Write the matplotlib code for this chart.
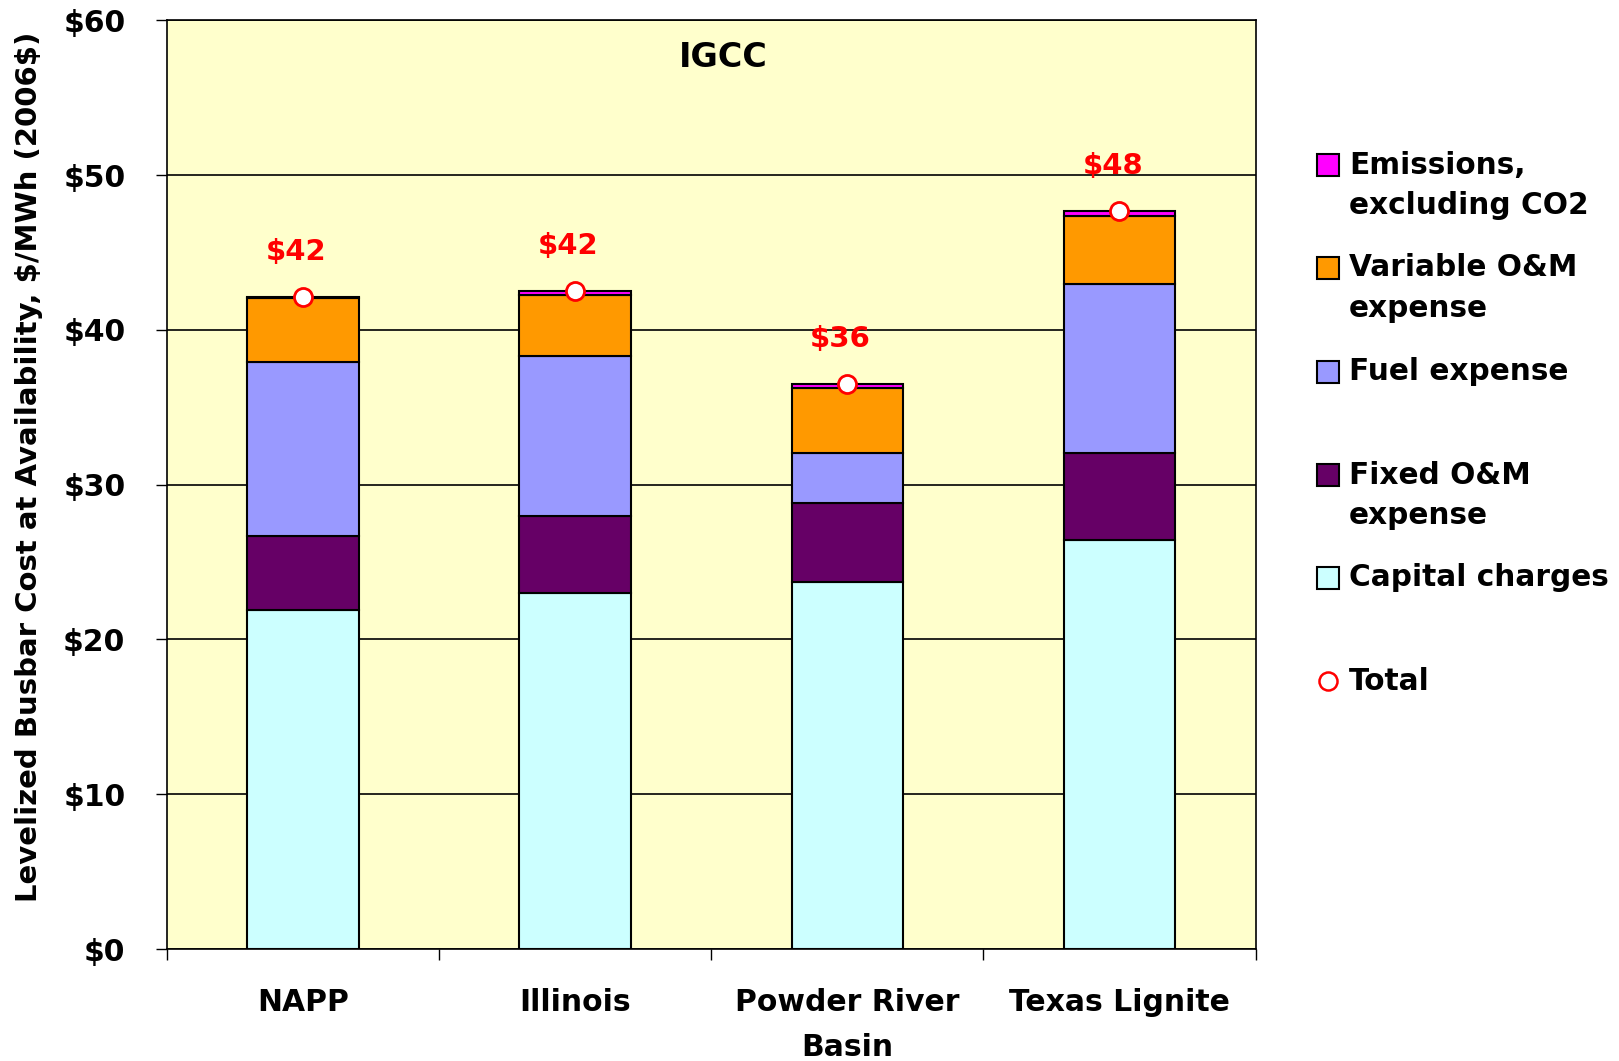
import matplotlib
matplotlib.use("Agg")
import matplotlib.pyplot as plt
from matplotlib.patches import Rectangle
from matplotlib.lines import Line2D
import numpy as np

plt.rcParams['font.family'] = ['DejaVu Sans']
plt.rcParams['font.weight'] = 'bold'

regions = ["NAPP", "Illinois", "Powder River\nBasin", "Texas Lignite"]
capital = [21.93, 23.0, 23.73, 26.4]
fixed_om = [4.74, 5.0, 5.07, 5.67]
fuel = [11.27, 10.31, 3.27, 10.87]
variable_om = [4.1, 3.94, 4.16, 4.44]
emissions = [0.1, 0.25, 0.27, 0.3]
total_labels = ["$42", "$42", "$36", "$48"]
y_ticks = [0, 10, 20, 30, 40, 50, 60]
y_tick_labels = ["$0", "$10", "$20", "$30", "$40", "$50", "$60"]

series = [
    (capital, "#CCFFFF", "Capital charges"),
    (fixed_om, "#660066", "Fixed O&M\nexpense"),
    (fuel, "#9999FF", "Fuel expense"),
    (variable_om, "#FF9900", "Variable O&M\nexpense"),
    (emissions, "#FF00FF", "Emissions,\nexcluding CO2"),
]

W, H = 1619, 1061
fig = plt.figure(figsize=(W / 100, H / 100), dpi=100)
ax = fig.add_axes([167 / W, 1 - 949 / H, (1255.5 - 167) / W, (949 - 20.3) / H])
ax.set_facecolor("#FFFFCC")

x = np.arange(len(regions))
bottom = np.zeros(len(regions))
for vals, col, lab in series:
    ax.bar(x, vals, width=0.41, bottom=bottom, color=col, edgecolor="black",
           linewidth=1.5, zorder=3)
    bottom = bottom + np.array(vals)

totals = bottom
ax.plot(x, totals, 'o', ms=13, mfc="white", mec="red", mew=2, zorder=5)
for xi, t, lab in zip(x, totals, total_labels):
    ax.text(xi - 0.025, t + 2.9, lab, color="red", fontsize=21, ha="center",
            va="center", fontweight="bold")

ax.text(1.543, 57.6, "IGCC", fontsize=24, ha="center", va="center", fontweight="bold")

ax.set_xlim(-0.5, 3.5)
ax.set_ylim(0, 60)
ax.set_yticks(y_ticks)
ax.set_yticklabels(y_tick_labels, fontsize=21.5, fontweight="bold")
ax.yaxis.grid(True, color="black", linewidth=1.2, zorder=1)
ax.set_axisbelow(True)
ax.tick_params(axis="y", direction="out", length=8, width=1, pad=22)

ax.set_xticks(np.arange(-0.5, 4.0, 1.0))
ax.set_xticklabels([])
ax.tick_params(axis="x", which="major", direction="out", length=8, width=1)
ax.set_xticks(x, minor=True)
ax.set_xticklabels(regions, minor=True, fontsize=21.5, fontweight="bold")
ax.tick_params(axis="x", which="minor", length=0, pad=28)
for lbl in ax.get_xticklabels(minor=True):
    lbl.set_linespacing(1.72)

for sp in ax.spines.values():
    sp.set_color("black")
    sp.set_linewidth(1.2)

fig.text(29 / W, 1 - 467 / H, r"Levelized Busbar Cost at Availability, \$/MWh (2006\$)",
         rotation=90, ha="center", va="center", fontsize=21, fontweight="bold")

# legend, drawn by hand to keep the squares on the first text line
sq = 22
legend_rows = [
    ("#FF00FF", ["Emissions,", "excluding CO2"], 165),
    ("#FF9900", ["Variable O&M", "expense"], 268),
    ("#9999FF", ["Fuel expense"], 372),
    ("#660066", ["Fixed O&M", "expense"], 475),
    ("#CCFFFF", ["Capital charges"], 578),
]
for col, lines, yc in legend_rows:
    fig.patches.append(Rectangle((1317 / W, 1 - (yc + sq / 2) / H), sq / W, sq / H,
                                 transform=fig.transFigure, facecolor=col,
                                 edgecolor="black", linewidth=1.5))
    for k, line in enumerate(lines):
        fig.text(1349 / W, 1 - (yc + 41 * k) / H, line, fontsize=21.3,
                 fontweight="bold", ha="left", va="center")
fig.lines.append(Line2D([1328 / W], [1 - 681 / H], transform=fig.transFigure,
                        marker="o", ms=13, mfc="white", mec="red", mew=1.8))
fig.text(1349 / W, 1 - 681 / H, "Total", fontsize=21.3, fontweight="bold",
         ha="left", va="center")

fig.savefig("out.png", dpi=100)
